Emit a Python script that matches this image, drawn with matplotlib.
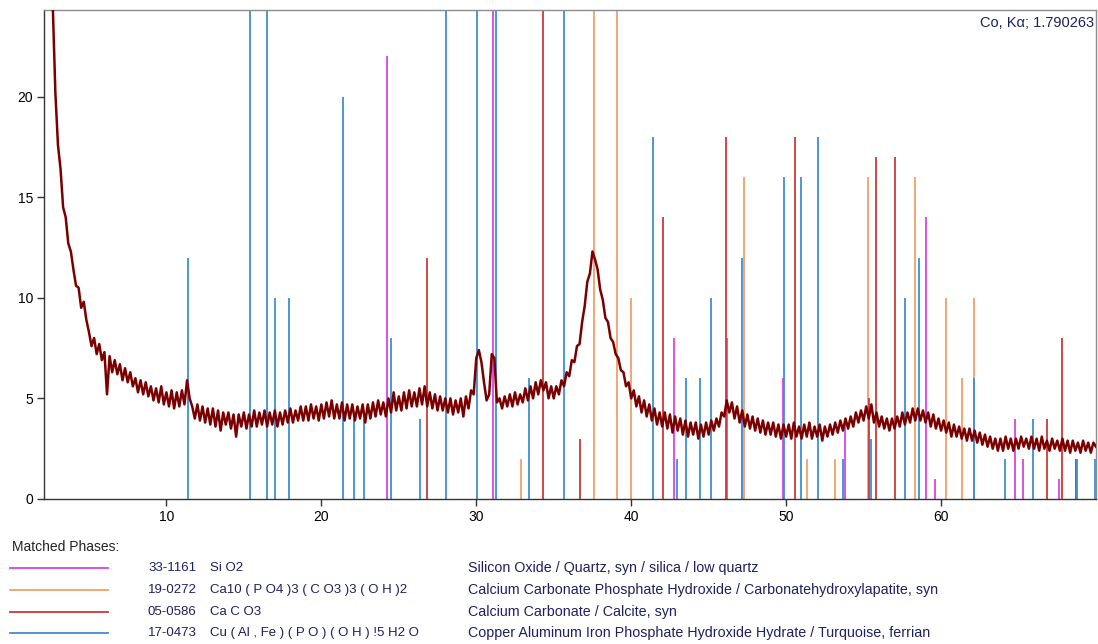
import numpy as np
import matplotlib
matplotlib.use("Agg")
import matplotlib.pyplot as plt
from matplotlib.lines import Line2D

plt.rcParams['font.family'] = ['Liberation Sans', 'DejaVu Sans']

# ---------------- measured pattern (2theta from 2.5 to 70.0, 6 readings per degree) ----------------
intensity = [
    30.0, 24.5, 20.2,
    17.6, 16.4, 14.5, 14.0, 12.7, 12.3,   # 3
    11.4, 10.6, 10.5, 9.5, 9.8, 8.9,      # 4
    8.3, 7.6, 8.0, 7.2, 7.7, 6.9,         # 5
    7.3, 5.2, 7.1, 6.3, 6.9, 6.2,         # 6
    6.7, 5.9, 6.5, 5.8, 6.3, 5.6,         # 7
    6.0, 5.3, 5.9, 5.2, 5.8, 5.1,         # 8
    5.6, 4.9, 5.5, 4.8, 5.6, 4.7,         # 9
    5.3, 4.6, 5.4, 4.5, 5.3, 4.6,         # 10
    5.4, 4.7, 5.9, 5.0, 4.6, 4.0,         # 11
    4.7, 3.9, 4.6, 3.8, 4.5, 3.7,         # 12
    4.5, 3.6, 4.4, 3.4, 4.3, 3.7,         # 13
    4.3, 3.5, 4.2, 3.1, 4.2, 3.6,         # 14
    4.3, 3.5, 4.2, 3.6, 4.4, 3.6,         # 15
    4.3, 3.7, 4.4, 3.6, 4.3, 3.7,         # 16
    4.4, 3.6, 4.3, 3.7, 4.4, 3.8,         # 17
    4.5, 3.8, 4.4, 3.9, 4.6, 3.9,         # 18
    4.6, 3.9, 4.7, 4.0, 4.6, 3.9,         # 19
    4.7, 4.0, 4.8, 4.1, 4.9, 4.0,         # 20
    4.7, 4.0, 4.8, 3.9, 4.7, 4.0,         # 21
    4.7, 3.9, 4.6, 4.0, 4.7, 3.8,         # 22
    4.7, 4.0, 4.8, 4.1, 4.9, 4.2,         # 23
    4.8, 4.1, 5.0, 4.3, 5.3, 4.4,         # 24
    5.1, 4.4, 5.3, 4.5, 5.4, 4.6,         # 25
    5.3, 4.6, 5.5, 4.7, 5.6, 4.6,         # 26
    5.3, 4.5, 5.2, 4.4, 5.1, 4.4,         # 27
    5.0, 4.3, 5.0, 4.2, 4.9, 4.3,         # 28
    5.0, 4.1, 5.1, 4.5, 5.4, 5.2,         # 29
    7.0, 7.4, 6.8, 5.8, 4.9, 5.2,         # 30
    7.2, 7.0, 4.8, 5.0, 4.5, 5.1,         # 31
    4.6, 5.2, 4.6, 5.3, 4.7, 5.2,         # 32
    4.8, 5.5, 4.9, 5.6, 5.0, 5.8,         # 33
    5.2, 5.9, 5.4, 5.8, 5.0, 5.6,         # 34
    5.0, 5.6, 5.2, 5.9, 5.6, 6.3,         # 35
    6.1, 6.9, 6.8, 7.6, 7.7, 8.8,         # 36
    9.6, 10.8, 11.2, 12.3, 11.9, 11.4,    # 37
    10.4, 9.9, 9.0, 8.8, 8.0, 7.8,        # 38
    7.2, 7.0, 6.4, 6.3, 5.6, 5.8,         # 39
    5.0, 5.4, 4.6, 5.1, 4.3, 4.9,         # 40
    4.1, 4.7, 3.9, 4.5, 3.7, 4.3,         # 41
    3.6, 4.3, 3.5, 4.2, 3.3, 4.1,         # 42
    3.4, 4.0, 3.2, 3.9, 3.1, 3.8,         # 43
    3.2, 3.8, 3.0, 3.7, 3.1, 3.8,         # 44
    3.2, 3.9, 3.4, 4.0, 3.6, 4.3,         # 45
    4.1, 4.9, 4.3, 4.8, 4.0, 4.6,         # 46
    3.8, 4.4, 3.6, 4.2, 3.5, 4.1,         # 47
    3.4, 4.0, 3.3, 3.9, 3.2, 3.8,         # 48
    3.2, 3.8, 3.1, 3.7, 3.0, 3.7,         # 49
    3.1, 3.7, 3.0, 3.8, 3.1, 3.6,         # 50
    3.0, 3.7, 3.1, 3.8, 3.0, 3.6,         # 51
    3.1, 3.7, 2.9, 3.6, 3.1, 3.7,         # 52
    3.2, 3.8, 3.3, 3.9, 3.4, 4.0,         # 53
    3.5, 4.1, 3.6, 4.3, 3.8, 4.4,         # 54
    3.9, 4.6, 4.0, 4.7, 3.8, 4.3,         # 55
    3.6, 4.1, 3.5, 4.0, 3.4, 4.0,         # 56
    3.5, 4.1, 3.6, 4.3, 3.7, 4.3,         # 57
    3.8, 4.5, 3.9, 4.5, 3.9, 4.4,         # 58
    3.8, 4.3, 3.6, 4.2, 3.5, 4.0,         # 59
    3.4, 3.9, 3.3, 3.8, 3.1, 3.7,         # 60
    3.1, 3.6, 3.0, 3.5, 2.9, 3.5,         # 61
    2.9, 3.4, 2.8, 3.3, 2.7, 3.2,         # 62
    2.6, 3.1, 2.5, 3.0, 2.4, 3.0,         # 63
    2.4, 3.1, 2.5, 3.0, 2.4, 3.0,         # 64
    2.5, 3.1, 2.6, 3.0, 2.5, 3.1,         # 65
    2.5, 3.0, 2.4, 3.1, 2.5, 2.9,         # 66
    2.4, 3.0, 2.5, 2.9, 2.4, 3.0,         # 67
    2.4, 2.9, 2.3, 2.9, 2.4, 2.8,         # 68
    2.3, 2.9, 2.4, 2.8, 2.3, 2.8,         # 69
    2.6,
]
two_theta = np.linspace(2.5, 70.0, len(intensity))

# ---------------- reference patterns (stick positions / relative intensity) ----------------
quartz_pos = [24.27, 31.08, 42.74, 46.19, 47.18, 49.80, 53.80, 59.04, 59.58, 64.76, 65.30, 67.64]
quartz_int = [22, 100, 8, 8, 4, 6, 4, 14, 1, 4, 2, 1]

apatite_pos = [32.89, 37.62, 39.06, 39.96, 47.29, 51.35, 53.13, 55.28, 58.31, 60.29, 61.37, 62.10]
apatite_int = [2, 100, 60, 10, 16, 2, 2, 16, 16, 10, 6, 10]

calcite_pos = [26.85, 34.31, 36.72, 42.07, 46.14, 50.60, 55.36, 55.82, 57.05, 66.82, 67.81, 68.72]
calcite_int = [12, 100, 3, 14, 18, 18, 5, 17, 17, 4, 8, 2]

turq_pos = [11.40, 15.42, 16.49, 17.03, 17.91, 21.43, 22.14, 22.78, 24.49, 26.36, 28.07, 30.03,
            31.26, 33.43, 35.66, 41.38, 42.93, 43.53, 44.45, 45.14, 47.12, 49.89, 50.99, 52.05,
            53.70, 55.47, 57.65, 58.58, 62.10, 64.14, 65.92, 68.76, 69.96]
turq_int = [12, 70, 100, 10, 10, 20, 4, 4, 8, 4, 30, 90, 40, 6, 50, 18, 2, 6, 6, 10, 12, 16, 16, 18,
            2, 3, 10, 12, 6, 2, 4, 2, 2]

phase_codes = ["33-1161", "19-0272", "05-0586", "17-0473"]
phase_formulas = ["Si O2", "Ca10 ( P O4 )3 ( C O3 )3 ( O H )2", "Ca C O3",
                  "Cu ( Al , Fe ) ( P O ) ( O H ) !5 H2 O"]
phase_names = ["Silicon Oxide / Quartz, syn / silica / low quartz",
               "Calcium Carbonate Phosphate Hydroxide / Carbonatehydroxylapatite, syn",
               "Calcium Carbonate / Calcite, syn",
               "Copper Aluminum Iron Phosphate Hydroxide Hydrate / Turquoise, ferrian"]
phase_colors = ["#d844e4", "#f0a06a", "#cc3a3a", "#3d8fd6"]

x_ticks = [10, 20, 30, 40, 50, 60]
y_ticks = [0, 5, 10, 15, 20]
radiation_label = "Co, K\u03b1; 1.790263"

# ---------------- figure ----------------
W, H = 1098, 644
fig = plt.figure(figsize=(W / 100, H / 100), dpi=100)
fig.patch.set_facecolor("white")
ax = fig.add_axes([44 / W, 1 - 499 / H, (1096 - 44) / W, (499 - 10) / H])

sticks = [(quartz_pos, quartz_int), (apatite_pos, apatite_int),
          (calcite_pos, calcite_int), (turq_pos, turq_int)]
for (pos, inten), col in zip(sticks, phase_colors):
    ax.vlines(pos, 0, inten, colors=col, linewidth=1.3, zorder=2)

ax.plot(two_theta, intensity, color="#7a0000", linewidth=1.8, zorder=3)

ax.set_xlim(2.1, 70.0)
ax.set_ylim(0, 24.3)
ax.set_xticks(x_ticks)
ax.set_yticks(y_ticks)
ax.tick_params(axis="both", direction="out", length=5, width=1, colors="#333333",
               labelcolor="black", labelsize=10, pad=3)
for side in ("top", "right"):
    ax.spines[side].set_color("#8c8c8c")
for side in ("left", "bottom"):
    ax.spines[side].set_color("#333333")
for sp in ax.spines.values():
    sp.set_linewidth(1.0)

ax.text(0.998, 0.988, radiation_label, transform=ax.transAxes, ha="right", va="top",
        fontsize=10.5, color="#1e2060")

# ---------------- matched phases legend ----------------
def fx(px):
    return px / W

def fy(py):
    return 1 - py / H

fig.text(fx(12), fy(547), "Matched Phases:", ha="left", va="center", fontsize=10, color="#222222")
row_y = [568, 590, 612, 633]
for i in range(len(phase_codes)):
    y = fy(row_y[i])
    fig.add_artist(Line2D([fx(10), fx(108)], [y, y], color=phase_colors[i], linewidth=1.3,
                          transform=fig.transFigure))
    fig.text(fx(148), y, phase_codes[i], ha="left", va="center", fontsize=9.5, color="#1e2060")
    fig.text(fx(210), y, phase_formulas[i], ha="left", va="center", fontsize=9.5, color="#1e2060")
    fig.text(fx(468), y, phase_names[i], ha="left", va="center", fontsize=10.3, color="#1e2060")

fig.savefig("out.png", dpi=100, facecolor="white")
